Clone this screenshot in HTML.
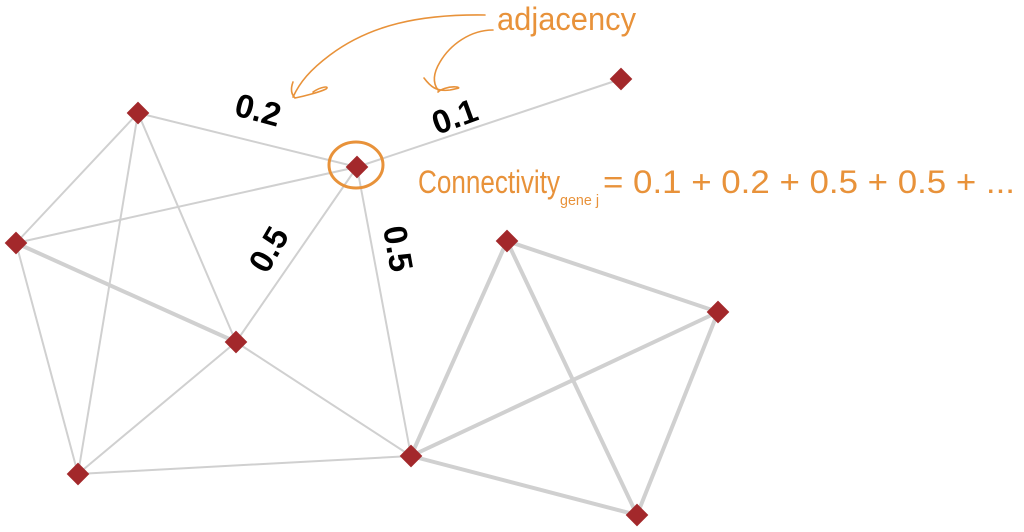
<!DOCTYPE html>
<html><head><meta charset="utf-8"><style>
html,body{margin:0;padding:0;background:#fff;}
svg{display:block;}
</style></head><body>
<svg width="1024" height="532" viewBox="0 0 1024 532" xmlns="http://www.w3.org/2000/svg">
<g stroke="#d0d0d0" stroke-width="2" fill="none" stroke-linecap="round">
<line x1="138" y1="113" x2="357" y2="167"/>
<line x1="138" y1="113" x2="16" y2="243"/>
<line x1="138" y1="113" x2="236" y2="342"/>
<line x1="138" y1="113" x2="78" y2="474"/>
<line x1="357" y1="167" x2="621" y2="79"/>
<line x1="357" y1="167" x2="16" y2="243"/>
<line x1="357" y1="167" x2="236" y2="342"/>
<line x1="357" y1="167" x2="411" y2="456"/>
<line x1="16" y1="243" x2="236" y2="342" stroke-width="4"/>
<line x1="16" y1="243" x2="78" y2="474"/>
<line x1="236" y1="342" x2="78" y2="474"/>
<line x1="236" y1="342" x2="411" y2="456"/>
<line x1="78" y1="474" x2="411" y2="456"/>
<g stroke-width="4">
<line x1="411" y1="456" x2="507" y2="241"/>
<line x1="411" y1="456" x2="718" y2="312"/>
<line x1="411" y1="456" x2="637" y2="515"/>
<line x1="507" y1="241" x2="718" y2="312"/>
<line x1="507" y1="241" x2="637" y2="515"/>
<line x1="718" y1="312" x2="637" y2="515"/>
</g>
</g>
<g fill="#a3282b">
<rect x="-8" y="-8" width="16" height="16" transform="translate(138,113) rotate(45)"/>
<rect x="-8" y="-8" width="16" height="16" transform="translate(357,167) rotate(45)"/>
<rect x="-8" y="-8" width="16" height="16" transform="translate(621,79) rotate(45)"/>
<rect x="-8" y="-8" width="16" height="16" transform="translate(16,243) rotate(45)"/>
<rect x="-8" y="-8" width="16" height="16" transform="translate(236,342) rotate(45)"/>
<rect x="-8" y="-8" width="16" height="16" transform="translate(78,474) rotate(45)"/>
<rect x="-8" y="-8" width="16" height="16" transform="translate(411,456) rotate(45)"/>
<rect x="-8" y="-8" width="16" height="16" transform="translate(507,241) rotate(45)"/>
<rect x="-8" y="-8" width="16" height="16" transform="translate(718,312) rotate(45)"/>
<rect x="-8" y="-8" width="16" height="16" transform="translate(637,515) rotate(45)"/>
</g>
<ellipse cx="356" cy="165" rx="27" ry="23" fill="none" stroke="#e8923a" stroke-width="3"/>
<g fill="none" stroke="#e8923a" stroke-width="1.6" stroke-linecap="round">
<path d="M485 15 C420 14 370 25 330 55 C310 70 300 82 293 97"/>
<path d="M293 82 C290 90 292 95 295 98 C305 96 320 92 326 89 C330 86 322 86 313 92"/>
<path d="M493 30 C470 30 450 45 440 62 C434 72 432 82 438 90"/>
<path d="M424 78 C430 86 436 92 450 90 C460 88 460 88 457 87 C448 86 440 90 438 92"/>
</g>
<g font-family="Liberation Sans, sans-serif" font-weight="bold" font-size="33" fill="#000">
<text x="0" y="0" transform="translate(233,115) rotate(15)">0.2</text>
<text x="0" y="0" transform="translate(437,135) rotate(-20)">0.1</text>
<text x="0" y="0" transform="translate(267,275) rotate(-60)">0.5</text>
<text x="0" y="0" transform="translate(383,228) rotate(80)">0.5</text>
</g>
<g font-family="Liberation Sans, sans-serif" fill="#e8923a">
<text x="497" y="30" font-size="32" textLength="139" lengthAdjust="spacingAndGlyphs">adjacency</text>
<text x="418" y="193" font-size="32" textLength="142" lengthAdjust="spacingAndGlyphs">Connectivity</text>
<text x="560" y="205" font-size="15" textLength="39" lengthAdjust="spacingAndGlyphs">gene j</text>
<text x="603" y="193" font-size="32" textLength="412" lengthAdjust="spacingAndGlyphs">= 0.1 + 0.2 + 0.5 + 0.5 + ...</text>
</g>
</svg>
</body></html>
